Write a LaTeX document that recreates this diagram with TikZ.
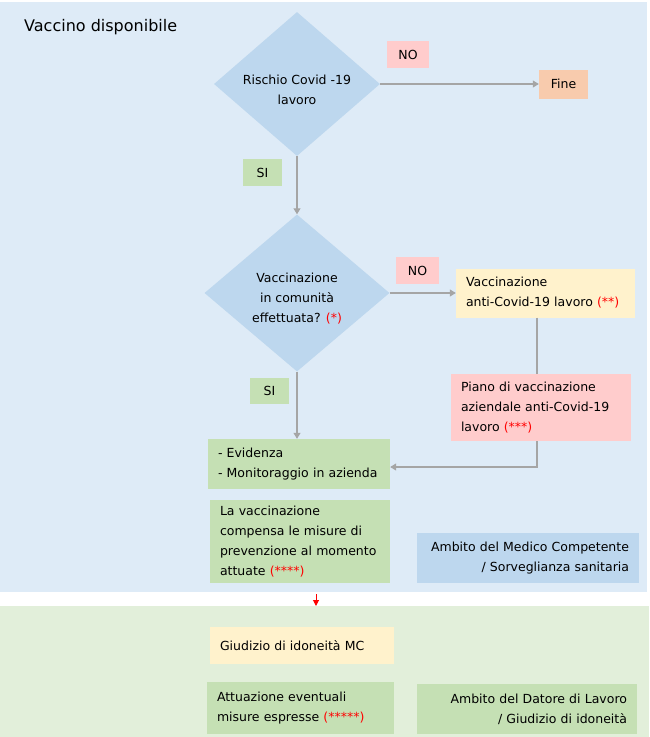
\documentclass[tikz,border=0pt]{standalone}
\usepackage{fontspec}
\setmainfont{DejaVu Sans}
\usetikzlibrary{shapes.geometric,arrows.meta}
\definecolor{panelblue}{HTML}{DEEBF7}
\definecolor{panelgreen}{HTML}{E2EFDA}
\definecolor{decblue}{HTML}{BDD7EE}
\definecolor{boxgreen}{HTML}{C5E0B4}
\definecolor{boxpink}{HTML}{FFCCCC}
\definecolor{boxorange}{HTML}{F8CBAD}
\definecolor{boxyellow}{HTML}{FFF2CC}
\definecolor{linegray}{HTML}{A5A5A5}
\definecolor{notered}{HTML}{FF0000}
\newcommand{\boxfont}{\fontsize{12.5}{20}\selectfont}
\newcommand{\note}[1]{\textcolor{notered}{#1}}
\tikzset{x=1pt, y=-1pt, >={Triangle[length=6pt,width=7pt]},
  decision/.style={diamond, fill=decblue, inner sep=0pt},
  dectext/.style={font=\boxfont, align=center, yshift=-6pt},
  tag/.style={inner sep=0pt, minimum height=27, minimum width=42, font=\boxfont},
  textbox/.style={inner xsep=10pt, inner ysep=0pt, font=\boxfont, align=left},
  flow/.style={draw=linegray, line width=1.1pt}}

\begin{document}
\begin{tikzpicture}
\useasboundingbox (0,0) rectangle (649,737);
% sfondi
\fill[panelblue] (0,2) rectangle (647,592);
\fill[panelgreen] (0,606) rectangle (649,737);
\node (titolo) [anchor=base west, inner sep=0pt, font=\fontsize{16}{20}\selectfont] at (24,31) {Vaccino disponibile};

% decisioni
\node (rischio) [decision, minimum width=166, minimum height=144,
  label={[dectext]center:Rischio Covid -19\\lavoro}] at (297,84) {};
\node (vaccomunita) [decision, minimum width=185, minimum height=157,
  label={[dectext]center:Vaccinazione\\in comunità\\effettuata? \note{(*)}}] at (297,293) {};

% etichette
\node (no1) [tag, fill=boxpink] at (408,54.5) {NO};
\node (si1) [tag, fill=boxgreen, minimum width=39] at (262.5,172.5) {SI};
\node (no2) [tag, fill=boxpink, minimum width=43] at (417.5,270.5) {NO};
\node (si2) [tag, fill=boxgreen, minimum width=39, minimum height=26] at (269.5,391) {SI};
\node (fine) [tag, fill=boxorange, minimum width=49, minimum height=29] at (563.5,84) {Fine};

% riquadri
\node (vaclavoro) [textbox, fill=boxyellow, text width=159pt, minimum height=49] at (545.5,293)
  {Vaccinazione\\anti-Covid-19 lavoro \note{(**)}};
\node (piano) [textbox, fill=boxpink, text width=160pt, minimum height=67] at (541,407.5)
  {Piano di vaccinazione\\aziendale anti-Covid-19\\lavoro \note{(***)}};
\node (evidenza) [textbox, fill=boxgreen, text width=162pt, minimum height=50] at (299,464)
  {- Evidenza\\- Monitoraggio in azienda};
\node (compensa) [textbox, fill=boxgreen, text width=160pt, minimum height=83] at (300,541.5)
  {La vaccinazione\\compensa le misure di\\prevenzione al momento\\attuate \note{(****)}};
\node (ambitomc) [textbox, fill=decblue, align=right, text width=202pt, minimum height=50] at (528,558)
  {Ambito del Medico Competente\\/ Sorveglianza sanitaria};
\node (giudizio) [textbox, fill=boxyellow, text width=164pt, minimum height=37] at (302,645.5)
  {Giudizio di idoneità MC};
\node (attuazione) [textbox, fill=boxgreen, text width=167pt, minimum height=52] at (300.5,708)
  {Attuazione eventuali\\misure espresse \note{(*****)}};
\node (ambitodl) [textbox, fill=boxgreen, align=right, text width=200pt, minimum height=50] at (527,709)
  {Ambito del Datore di Lavoro\\/ Giudizio di idoneità};

% collegamenti
\coordinate (gomito) at (537,467);
\coordinate (rossoa) at (316,594);
\coordinate (rossob) at (316,606);
\draw[flow, ->] (rischio) -- (fine);
\draw[flow, ->] (rischio) -- (vaccomunita);
\draw[flow, ->] (vaccomunita) -- (vaclavoro);
\draw[flow] (vaclavoro.south -| gomito) -- (piano.north -| gomito);
\draw[flow, ->] (piano.south -| gomito) |- (evidenza.east |- gomito);
\draw[flow, ->] (vaccomunita.south) -- (vaccomunita.south |- evidenza.north);
\draw[notered, line width=1pt, -{Triangle[length=6pt,width=6pt]}] (rossoa) -- (rossob);
\end{tikzpicture}
\end{document}
